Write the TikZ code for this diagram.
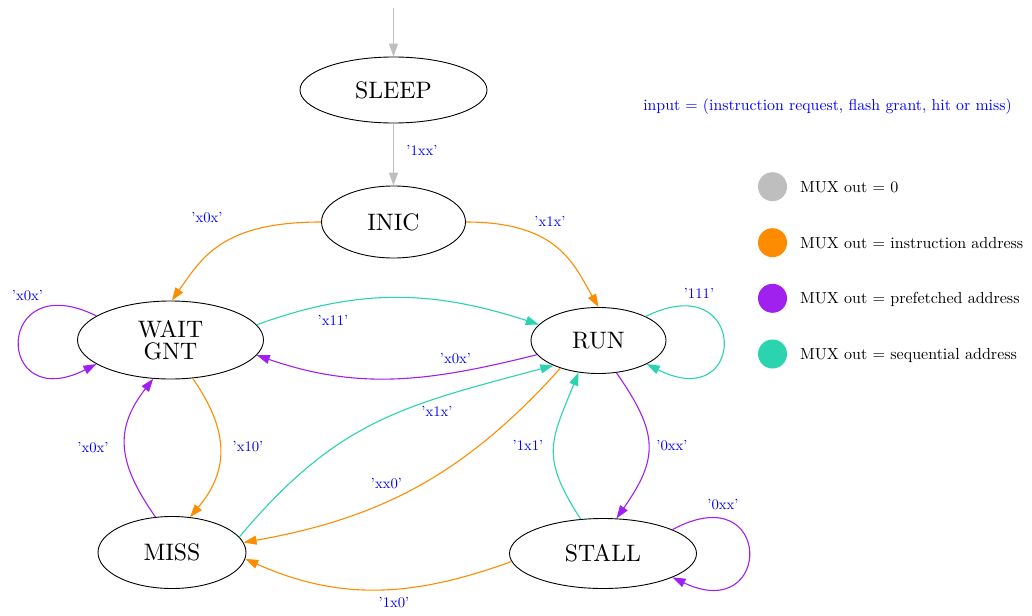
\documentclass[tikz,border=0pt]{standalone}
\usepackage{fontspec}
\setmainfont{lmroman10-regular}[Extension=.otf]
\usetikzlibrary{shapes.geometric,arrows.meta}
\definecolor{grayedge}{HTML}{BEBEBE}
\definecolor{orangeedge}{HTML}{FF8C00}
\definecolor{purpleedge}{HTML}{A020F0}
\definecolor{tealedge}{HTML}{2AD4AE}
\definecolor{lblblue}{HTML}{0000FF}

\begin{document}
\begin{tikzpicture}[x=1pt,y=1pt,
  fsm/.style={ellipse,draw=black,line width=0.9pt,inner sep=0pt,
    font=\fontsize{23.8}{22}\selectfont,align=center},
  conn/.style={line width=1.1pt,-{Triangle[length=13pt,width=9pt]}},
  lbl/.style={text=lblblue,font=\fontsize{14.7}{17}\selectfont,inner sep=0pt},
  legtext/.style={font=\fontsize{16}{19}\selectfont,anchor=base west,inner sep=0pt},
  legdot/.style={circle,inner sep=0pt,minimum size=29pt}
]
\useasboundingbox (0,0) rectangle (1032,-615);

% states
\node[fsm,minimum width=187pt,minimum height=66pt] (sleep) at (393.5,-90) {SLEEP};
\node[fsm,minimum width=144pt,minimum height=72pt] (inic) at (393.5,-222) {INIC};
\node[fsm,minimum width=186pt,minimum height=78pt] (wait) at (170.5,-340) {WAIT\\GNT};
\node[fsm,minimum width=135pt,minimum height=66pt] (run) at (598.5,-340.5) {RUN};
\node[fsm,minimum width=148pt,minimum height=72pt] (miss) at (172,-552.5) {MISS};
\node[fsm,minimum width=187pt,minimum height=70pt] (stall) at (603,-553.5) {STALL};

% entry and power-up
\coordinate (start) at (393.5,-8);
\draw[conn,grayedge] (start) -- (sleep.north);
\draw[conn,grayedge] (sleep.south) -- (inic.north);

% transitions out of INIC
\draw[conn,orangeedge] (inic.180) to[out=180,in=55,out looseness=1.5,in looseness=0.8] (wait.88);
\draw[conn,orangeedge] (inic.0) to[out=0,in=120,out looseness=1.5,in looseness=0.8] (run.90);

% WAIT GNT <-> RUN
\draw[conn,tealedge] (wait.10) to[out=20,in=162] (run.165);
\draw[conn,purpleedge] (run.193) to[out=194,in=341] (wait.350);

% self loops
\draw[conn,purpleedge] (wait.162) .. controls (-6,-265) and (-6,-416) .. (wait.198);
\draw[conn,tealedge] (run.27) .. controls (748.4,-265.7) and (748.4,-415.3) .. (run.-26);
\draw[conn,purpleedge] (stall.19) .. controls (773.6,-475) and (773.6,-625.3) .. (stall.-19);

% WAIT GNT <-> MISS
\draw[conn,orangeedge] (wait.-60) to[out=-55,in=50,looseness=1.15] (miss.63);
\draw[conn,purpleedge] (miss.115) to[out=125,in=232,looseness=1.2] (wait.-114);

% MISS <-> RUN
\draw[conn,tealedge] (miss.13) to[out=50,in=195,looseness=1.1] (run.209);
\draw[conn,orangeedge] (run.216) to[out=228,in=10] (miss.8);

% RUN <-> STALL
\draw[conn,tealedge] (stall.123) to[out=123,in=248,looseness=1.3] (run.238);
\draw[conn,purpleedge] (run.-61) to[out=-55,in=55,looseness=1.3] (stall.69);

% STALL -> MISS
\draw[conn,orangeedge] (stall.185) to[out=200,in=336] (miss.-5);

% transition labels
\node[lbl] (l1) at (422,-150) {'1xx'};
\node[lbl] (l2) at (207,-217.5) {'x0x'};
\node[lbl] (l3) at (550,-221) {'x1x'};
\node[lbl] (l4) at (333,-320) {'x11'};
\node[lbl] (l5) at (455.5,-358.5) {'x0x'};
\node[lbl] (l6) at (27.5,-296) {'x0x'};
\node[lbl] (l7) at (699,-293) {'111'};
\node[lbl] (l8) at (248,-447) {'x10'};
\node[lbl] (l9) at (93,-448) {'x0x'};
\node[lbl] (l10) at (437,-411.5) {'x1x'};
\node[lbl] (l11) at (386.5,-483.5) {'xx0'};
\node[lbl] (l12) at (528,-445) {'1x1'};
\node[lbl] (l13) at (672,-446) {'0xx'};
\node[lbl] (l14) at (723,-505) {'0xx'};
\node[lbl] (l15) at (394,-602.5) {'1x0'};

% input encoding
\node[text=lblblue,font=\fontsize{15.8}{19}\selectfont,inner sep=0pt,anchor=base] (inputdesc)
  at (827.5,-110.7) {input = (instruction request, flash grant, hit or miss)};

% legend
\node[legdot,fill=grayedge] (lg0) at (772.5,-186.7) {};
\node[legtext] (lt0) at (800,-192.3) {MUX out = 0};
\node[legdot,fill=orangeedge] (lg1) at (772.5,-242.7) {};
\node[legtext] (lt1) at (800,-248.3) {MUX out = instruction address};
\node[legdot,fill=purpleedge] (lg2) at (772.5,-298.3) {};
\node[legtext] (lt2) at (800,-303.9) {MUX out = prefetched address};
\node[legdot,fill=tealedge] (lg3) at (772.5,-354) {};
\node[legtext] (lt3) at (800,-359.6) {MUX out = sequential address};
\end{tikzpicture}
\end{document}
